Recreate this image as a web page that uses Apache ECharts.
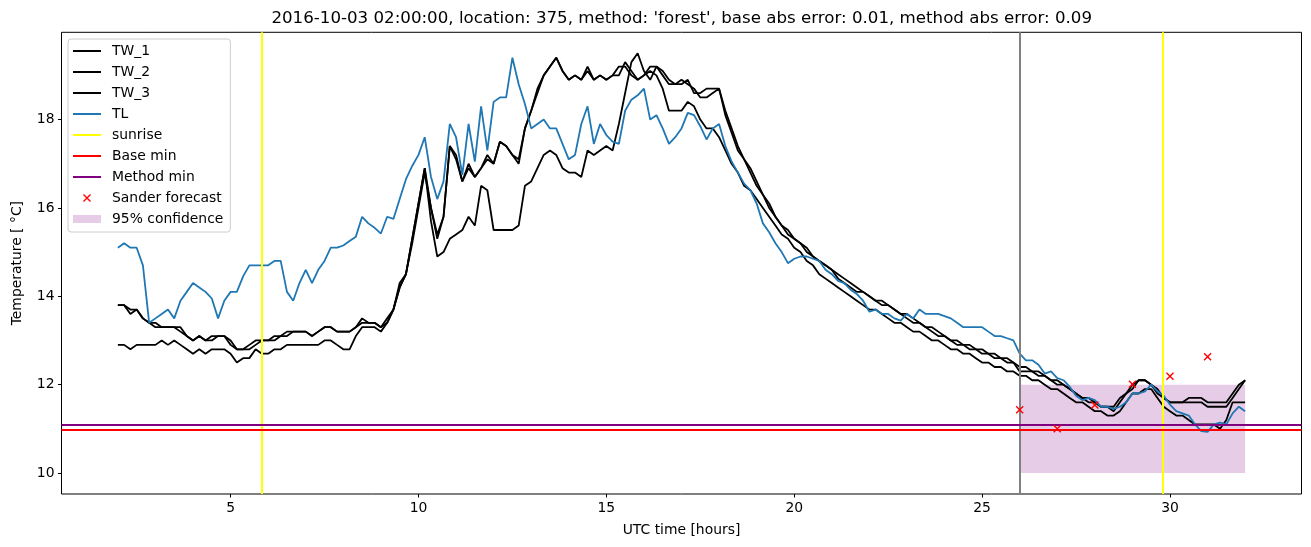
<!DOCTYPE html>
<html>
<head>
<meta charset="utf-8">
<script src="https://cdn.jsdelivr.net/npm/echarts@6/dist/echarts.min.js"></script>
<style>
html,body{margin:0;padding:0;background:#ffffff;}
#chart{width:1311px;height:547px;}
</style>
</head>
<body>
<div id="chart"></div>
<script>
// ---- data (10-minute samples starting at 2.0 h) ----
const tStart = 2;
const tStep = 1 / 6;

const TL = [
15.1,15.2,15.1,15.1,14.7,13.4,13.5,13.6,13.7,13.5,
13.9,14.1,14.3,14.2,14.1,13.95,13.5,13.9,14.1,14.1,
14.45,14.7,14.7,14.7,14.7,14.8,14.8,14.1,13.9,14.3,
14.6,14.3,14.6,14.8,15.1,15.1,15.15,15.25,15.35,15.8,
15.65,15.55,15.42,15.8,15.75,16.2,16.65,16.95,17.2,17.6,
16.7,16.2,16.6,17.9,17.6,16.75,17.9,17.05,18.3,17.3,
18.4,18.5,18.5,19.4,18.8,18.35,17.8,17.9,18.0,17.8,
17.8,17.45,17.1,17.2,17.9,18.3,17.45,17.9,17.65,17.5,
17.45,18.2,18.45,18.55,18.7,18.0,18.1,17.8,17.45,17.6,
17.8,18.15,18.1,17.85,17.55,17.8,17.9,17.4,17.05,16.8,
16.55,16.4,16.1,15.65,15.45,15.2,15.0,14.75,14.85,14.9,
14.9,14.85,14.8,14.6,14.5,14.35,14.3,14.15,14.05,13.9,
13.65,13.7,13.6,13.6,13.5,13.45,13.6,13.5,13.7,13.6,
13.6,13.6,13.55,13.5,13.4,13.3,13.3,13.3,13.3,13.2,
13.1,13.1,13.05,13.0,12.7,12.55,12.55,12.45,12.25,12.3,
12.15,12.1,11.95,11.75,11.65,11.7,11.65,11.5,11.5,11.45,
11.5,11.6,11.8,11.8,11.85,12.0,11.85,11.75,11.55,11.4,
11.35,11.3,11.1,10.95,10.93,11.1,11.14,11.1,11.35,11.5,
11.4
];

const TW_1 = [
13.8,13.8,13.7,13.7,13.5,13.4,13.3,13.3,13.3,13.3,
13.2,13.1,13.0,13.1,13.0,13.0,13.1,13.1,13.0,12.8,
12.8,12.8,12.9,13.0,13.0,13.1,13.1,13.2,13.2,13.2,
13.2,13.1,13.2,13.3,13.3,13.2,13.2,13.2,13.3,13.5,
13.4,13.4,13.3,13.5,13.7,14.3,
14.5,15.3,16.1,16.9,16.0,15.3,15.8,17.4,17.2,16.6,16.9,16.7,16.9,17.2,
17.0,17.5,17.4,17.2,17.1,17.8,18.2,18.7,19.0,19.2,
19.4,19.1,18.9,19.0,18.9,19.2,18.9,19.0,18.9,19.0,
19.0,19.3,19.1,18.9,
19.0,19.2,19.2,19.0,18.8,18.8,18.9,18.8,18.7,18.5,18.5,18.6,18.7,
18.1,17.7,17.3,17.1,16.8,16.5,16.3,16.0,15.8,15.6,
15.4,15.3,15.2,15.0,14.9,14.8,14.7,14.6,14.4,14.3,
14.2,14.1,14.1,14.0,13.9,13.8,13.8,13.7,13.6,13.5,
13.4,13.4,13.3,13.2,13.1,13.1,13.0,12.9,12.9,12.8,
12.8,12.7,12.7,12.6,12.6,12.5,12.5,
12.4,12.4,12.3,12.3,12.2,12.1,12.1,12.0,11.9,11.8,
11.7,11.7,11.6,11.5,11.5,11.5,11.7,11.8,12.0,12.1,
12.1,12.0,11.8,11.7,11.6,11.6,11.6,11.7,11.7,11.7,
11.6,11.6,11.6,11.6,11.8,12.0,12.1
];

const TW_2 = [
13.8,13.8,13.6,13.7,13.5,13.4,13.4,13.3,13.3,13.3,
13.3,13.1,13.0,13.1,13.0,13.1,13.1,13.1,12.9,12.8,
12.8,12.9,13.0,13.0,13.0,13.0,13.1,13.1,13.2,13.2,
13.2,13.1,13.2,13.3,13.3,13.2,13.2,13.2,13.3,13.4,
13.4,13.4,13.3,13.4,13.7,14.2,
14.5,15.2,16.0,16.8,16.0,15.4,15.8,17.4,17.1,16.6,17.0,16.7,16.9,17.1,
17.0,17.5,17.4,17.2,17.0,17.8,18.2,18.6,19.0,19.2,
19.4,19.1,18.9,19.0,18.9,19.1,18.9,19.0,18.9,19.0,
19.2,19.2,19.0,18.9,
19.0,19.1,19.0,18.7,18.2,18.2,18.2,18.4,18.3,18.0,17.8,17.8,17.6,
17.3,17.0,16.8,16.5,16.4,16.2,16.0,15.8,15.6,15.4,
15.3,15.1,15.0,14.8,14.7,14.5,14.4,14.3,14.2,14.1,
14.0,13.9,13.8,13.7,13.7,13.6,13.5,13.4,13.4,13.3,
13.2,13.2,13.1,13.0,13.0,12.9,12.8,12.8,12.7,12.7,
12.6,12.5,12.5,12.4,12.4,12.3,12.3,
12.2,12.2,12.1,12.1,12.0,11.9,11.9,11.8,11.7,11.6,
11.6,11.5,11.4,11.4,11.3,11.3,11.4,11.6,11.8,11.8,
11.9,11.9,11.7,11.5,11.4,11.3,11.3,11.2,11.1,11.1,
11.1,11.1,11.0,11.2,11.6,11.6,11.6
];

const TW_3 = [
12.9,12.9,12.8,12.9,12.9,12.9,12.9,13.0,12.9,13.0,
12.9,12.8,12.7,12.8,12.7,12.8,12.8,12.8,12.7,12.5,
12.6,12.6,12.8,12.7,12.7,12.8,12.8,12.9,12.9,12.9,
12.9,12.9,12.9,13.0,13.0,12.9,12.8,12.8,13.1,13.3,
13.3,13.3,13.2,13.4,13.7,14.2,
14.5,15.3,16.1,16.9,15.7,14.9,15.0,15.3,15.4,15.5,15.8,15.6,16.5,16.4,
15.5,15.5,15.5,15.5,15.6,16.5,16.6,16.9,17.2,17.3,
17.2,16.9,16.8,16.8,16.7,17.3,17.2,17.3,17.4,17.3,
17.9,18.6,19.3,19.5,
19.1,18.9,19.2,19.1,18.9,18.8,18.8,18.9,18.6,18.6,18.7,18.7,18.7,
18.2,17.8,17.4,17.1,16.9,16.6,16.3,16.1,15.8,15.6,
15.5,15.3,15.2,15.1,14.9,14.8,14.7,14.6,14.5,14.4,
14.3,14.2,14.1,14.0,13.9,13.9,13.8,13.7,13.6,13.6,
13.5,13.4,13.3,13.3,13.2,13.1,13.0,13.0,12.9,12.9,
12.8,12.8,12.7,12.7,12.6,12.6,12.5,
12.3,12.3,12.3,12.2,12.2,12.1,12.0,12.0,11.9,11.8,
11.7,11.6,11.6,11.5,11.5,11.4,11.6,11.8,11.9,12.1,
12.1,12.0,11.9,11.7,11.6,11.6,11.6,11.6,11.6,11.6,
11.5,11.5,11.5,11.5,11.7,11.9,12.1
];

const sunriseTimes = [5.83, 29.81];
const nowTime = [26];
const baseMin = [10.99];
const methodMin = [11.09];
const sanderTimes = [26, 27, 28, 29, 30, 31];
const sanderValues = [11.43, 11.0, 11.54, 12.01, 12.19, 12.63];
const confTimes = [26, 32];
const confRange = [10, 12];
const xTicks = [5, 10, 15, 20, 25, 30];
const yTicks = [10, 12, 14, 16, 18];

// ---- build ----
const times = TL.map((_, i) => +(tStart + i * tStep).toFixed(5));
const pairs = arr => arr.map((v, i) => [times[i], v]);
const FONT = 'DejaVu Sans';
const LINE_ICON = 'path://M0,0H28V2H0Z';
const X_ICON = 'path://M0,1.2L1.2,0L5,3.8L8.8,0L10,1.2L6.2,5L10,8.8L8.8,10L5,6.2L1.2,10L0,8.8L3.8,5Z';
const RECT_ICON = 'path://M0,0H28V8H0Z';

function lineSeries(name, data, color, z) {
  return {
    name, type: 'line', data: pairs(data), symbol: 'none', showSymbol: false,
    lineStyle: { color, width: 1.8 }, itemStyle: { color }, z, silent: true,
    emphasis: { disabled: true }
  };
}
function vMark(name, color, vals, z, key) {
  return {
    name, type: 'line', data: [], itemStyle: { color }, lineStyle: { color }, z,
    markLine: {
      silent: true, symbol: 'none', label: { show: false }, animation: false,
      lineStyle: { color, width: 2, type: 'solid', opacity: 1 },
      emphasis: { disabled: true },
      data: vals.map(v => ({ [key]: v }))
    }
  };
}

const chart = echarts.init(document.getElementById('chart'), null, { renderer: 'canvas' });
chart.setOption({
  animation: false,
  backgroundColor: '#ffffff',
  textStyle: { fontFamily: FONT },
  title: {
    text: "2016-10-03 02:00:00, location: 375, method: 'forest', base abs error: 0.01, method abs error: 0.09",
    left: 681.7, top: 10, padding: 0, textAlign: 'center',
    textStyle: { fontFamily: FONT, fontSize: 16.67, fontWeight: 'normal', color: '#000' }
  },
  grid: {
    left: 61.5, right: 9.5, top: 32.3, bottom: 53,
    show: true, borderColor: '#000', borderWidth: 1, backgroundColor: 'transparent'
  },
  xAxis: {
    type: 'value', min: 0.5, max: 33.5,
    name: 'UTC time [hours]', nameLocation: 'middle', nameGap: 29,
    nameTextStyle: { fontFamily: FONT, fontSize: 13.9, color: '#000' },
    axisLine: { show: false },
    splitLine: { show: false },
    axisTick: { show: true, inside: false, length: 3.5, lineStyle: { color: '#000', width: 1 }, customValues: xTicks },
    axisLabel: { show: true, margin: 7, fontFamily: FONT, fontSize: 13.9, color: '#000', customValues: xTicks }
  },
  yAxis: {
    type: 'value', min: 9.525, max: 19.975,
    name: 'Temperature [ °C]', nameLocation: 'middle', nameGap: 37,
    nameTextStyle: { fontFamily: FONT, fontSize: 13.9, color: '#000' },
    axisLine: { show: false },
    splitLine: { show: false },
    axisTick: { show: true, inside: false, length: 3.5, lineStyle: { color: '#000', width: 1 }, customValues: yTicks },
    axisLabel: { show: true, margin: 7, fontFamily: FONT, fontSize: 13.9, color: '#000', customValues: yTicks }
  },
  legend: {
    orient: 'vertical', left: 68, top: 39, z: 20,
    padding: [5, 7, 6, 5], itemGap: 7, itemWidth: 28, itemHeight: 8,
    backgroundColor: 'rgba(255,255,255,0.8)', borderColor: '#cccccc', borderWidth: 1, borderRadius: 3,
    selectedMode: false,
    textStyle: { fontFamily: FONT, fontSize: 13.9, color: '#000', padding: [0, 0, 0, 6] },
    data: [
      { name: 'TW_1', icon: LINE_ICON, itemStyle: { color: '#000000' } },
      { name: 'TW_2', icon: LINE_ICON, itemStyle: { color: '#000000' } },
      { name: 'TW_3', icon: LINE_ICON, itemStyle: { color: '#000000' } },
      { name: 'TL', icon: LINE_ICON, itemStyle: { color: '#1f77b4' } },
      { name: 'sunrise', icon: LINE_ICON, itemStyle: { color: '#ffff00' } },
      { name: 'Base min', icon: LINE_ICON, itemStyle: { color: '#ff0000' } },
      { name: 'Method min', icon: LINE_ICON, itemStyle: { color: '#800080' } },
      { name: 'Sander forecast', icon: X_ICON, itemStyle: { color: '#ff0000', opacity: 1 } },
      { name: '95% confidence', icon: RECT_ICON, itemStyle: { color: 'rgba(128,0,128,0.2)' } }
    ]
  },
  series: [
    {
      name: '95% confidence', type: 'line', data: [], z: 1,
      itemStyle: { color: 'rgba(128,0,128,0.2)' },
      markArea: {
        silent: true, itemStyle: { color: 'rgba(128,0,128,0.2)', borderWidth: 0 },
        emphasis: { disabled: true },
        data: [[{ coord: [confTimes[0], confRange[0]] }, { coord: [confTimes[1], confRange[1]] }]]
      }
    },
    vMark('now', '#808080', nowTime, 2, 'xAxis'),
    lineSeries('TW_1', TW_1, '#000000', 3),
    lineSeries('TW_2', TW_2, '#000000', 3),
    lineSeries('TW_3', TW_3, '#000000', 3),
    lineSeries('TL', TL, '#1f77b4', 3),
    vMark('sunrise', '#ffff00', sunriseTimes, 4, 'xAxis'),
    vMark('Base min', '#ff0000', baseMin, 4, 'yAxis'),
    vMark('Method min', '#800080', methodMin, 4, 'yAxis'),
    {
      name: 'Sander forecast', type: 'scatter', z: 5, silent: true,
      symbol: X_ICON, symbolSize: 8,
      itemStyle: { color: '#ff0000', opacity: 1 },
      emphasis: { disabled: true },
      data: sanderTimes.map((t, i) => [t, sanderValues[i]])
    }
  ]
});
</script>
</body>
</html>
